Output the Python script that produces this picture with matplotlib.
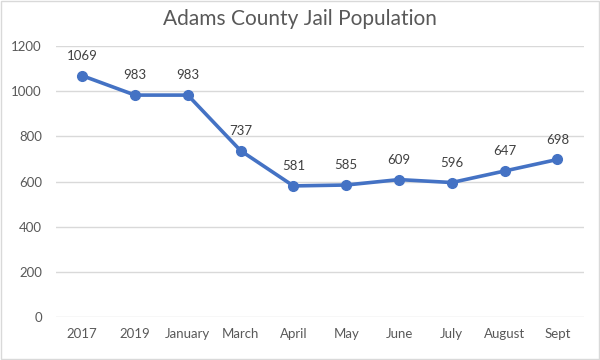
import matplotlib
matplotlib.use("Agg")
from matplotlib import pyplot as plt

categories = ["2017", "2019", "January", "March", "April", "May", "June", "July", "August", "Sept"]
population = [1069, 983, 983, 737, 581, 585, 609, 596, 647, 698]
yticks = [0, 200, 400, 600, 800, 1000, 1200]

plt.rcParams['font.family'] = ['Lato', 'DejaVu Sans']

fig = plt.figure(figsize=(6, 3.6), dpi=100)
ax = fig.add_axes([0.093, 0.119, 0.88, 0.753])

x = list(range(len(categories)))
ax.plot(x, population, color='#4472C4', linewidth=2.6, marker='o', markersize=7, zorder=3)

# data labels above each point
for xi, v in zip(x, population):
    ax.annotate(str(v), (xi, v), xytext=(0, 10), textcoords='offset points',
                ha='center', va='bottom', fontsize=9.5, color='#404040')

ax.set_xlim(-0.5, len(categories) - 0.5)
ax.set_ylim(0, 1200)
ax.set_yticks(yticks)
ax.set_xticks(x)
ax.set_xticklabels(categories)
ax.tick_params(axis='both', length=0, labelsize=9.5, labelcolor='#595959')
ax.tick_params(axis='x', pad=8)
ax.tick_params(axis='y', pad=10)
ax.grid(axis='y', color='#D9D9D9', linewidth=1)
ax.set_axisbelow(True)
for s in ax.spines.values():
    s.set_visible(False)

fig.suptitle("Adams County Jail Population", y=0.975, fontsize=15, color='#595959')

# light figure border
fig.patches.append(plt.Rectangle((0.002, 0.002), 0.996, 0.995, transform=fig.transFigure,
                                 fill=False, edgecolor='#D9D9D9', linewidth=1))

fig.savefig("out.png", dpi=100)
